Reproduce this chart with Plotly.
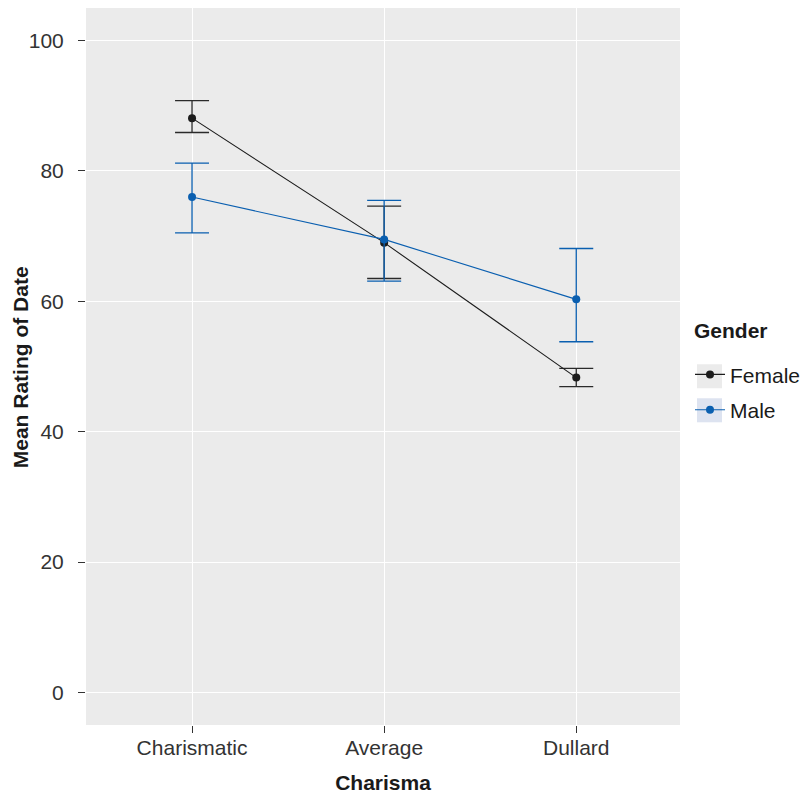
import plotly.graph_objects as go

categories = ["Charismatic", "Average", "Dullard"]
female_mean = [88.1, 69.0, 48.3]
female_upper = [90.8, 74.6, 49.7]
female_lower = [85.9, 63.5, 46.9]
male_mean = [76.0, 69.5, 60.3]
male_upper = [81.2, 75.5, 68.1]
male_lower = [70.5, 63.1, 53.8]
y_ticks = [0, 20, 40, 60, 80, 100]

FEMALE_C = "#1c1c1c"
MALE_C = "#0a5fb0"
FONT = "Liberation Sans, Arial, Helvetica, sans-serif"
FS = 21

xpos = list(range(1, len(categories) + 1))

def series(name, mean, upper, lower, color, errcolor):
    return go.Scatter(
        x=xpos, y=mean, name=name, mode="lines+markers", legendgroup=name,
        line=dict(color=color, width=1.1),
        marker=dict(color=color, size=8),
        error_y=dict(type="data", symmetric=False,
                     array=[u - m for u, m in zip(upper, mean)],
                     arrayminus=[m - l for m, l in zip(mean, lower)],
                     color=errcolor, thickness=1.3, width=17),
    )

fig = go.Figure()
fig.add_trace(series("Female", female_mean, female_upper, female_lower, FEMALE_C, "#2a2a2a"))
fig.add_trace(series("Male", male_mean, male_upper, male_lower, MALE_C, MALE_C))

PW, PH, L, T = 594, 716.5, 86, 8
def px(x):
    return (x - L) / PW
def py(y):
    return 1 - (y - T) / PH

# legend key backgrounds
fig.add_shape(type="rect", xref="paper", yref="paper",
              x0=px(697), x1=px(722), y0=py(388), y1=py(364),
              fillcolor="#ebebeb", line=dict(width=0), layer="below")
fig.add_shape(type="rect", xref="paper", yref="paper",
              x0=px(697), x1=px(722), y0=py(422), y1=py(398),
              fillcolor="#dde3f0", line=dict(width=0), layer="below")

fig.add_annotation(text="<b>Gender</b>", xref="paper", yref="paper",
                   x=px(692), y=py(330), xanchor="left", yanchor="middle",
                   showarrow=False, font=dict(size=FS, color="#1a1a1a"))
fig.add_annotation(text="<b>Mean Rating of Date</b>", xref="paper", yref="paper",
                   x=px(20), y=py(367), xanchor="center", yanchor="middle",
                   textangle=-90, showarrow=False, font=dict(size=FS, color="#1a1a1a"))

fig.update_layout(
    width=801, height=794,
    margin=dict(l=86, r=121, t=8, b=69, autoexpand=False),
    paper_bgcolor="white", plot_bgcolor="#ebebeb",
    font=dict(family=FONT, size=FS, color="#333333"),
    showlegend=True,
    legend=dict(
        x=px(690), xanchor="left", y=py(354), yanchor="top",
        bgcolor="rgba(0,0,0,0)", font=dict(size=FS, color="#1a1a1a"),
        itemwidth=30, tracegroupgap=5,
    ),
    xaxis=dict(
        range=[1 - 0.552, 3 + 0.54], tickmode="array", tickvals=xpos, ticktext=categories,
        showgrid=True, gridcolor="white", gridwidth=1, zeroline=False,
        ticks="outside", ticklen=7, tickcolor="#333333", tickwidth=1,
        ticklabelstandoff=-3,
        tickfont=dict(size=FS, color="#333333"),
        title=dict(text="<b>Charisma</b>", font=dict(size=FS, color="#1a1a1a"), standoff=20),
    ),
    yaxis=dict(
        range=[-5, 105], tickmode="array", tickvals=y_ticks,
        showgrid=True, gridcolor="white", gridwidth=1, zeroline=False,
        ticks="outside", ticklen=7, tickcolor="#333333", tickwidth=1,
        ticklabelstandoff=10,
        tickfont=dict(size=FS, color="#333333"),
    ),
)

fig.write_html("out.html", config={"displayModeBar": False},
               post_script="document.body.style.margin='0';document.body.style.padding='0';")
